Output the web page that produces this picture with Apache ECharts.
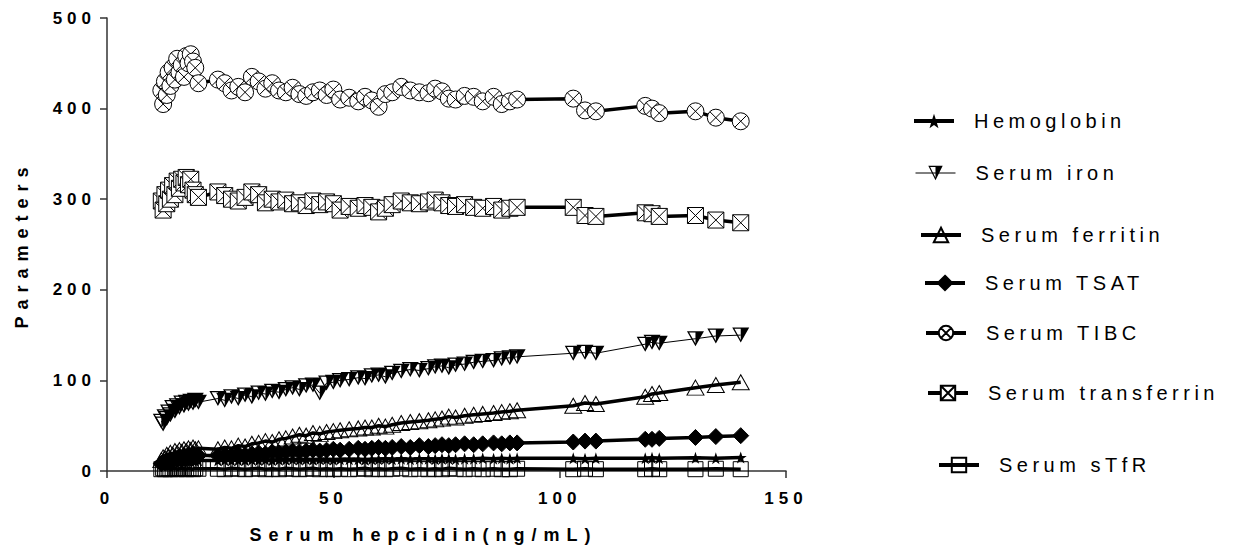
<!DOCTYPE html>
<html>
<head>
<meta charset="utf-8">
<script src="https://cdn.jsdelivr.net/npm/echarts@6/dist/echarts.min.js"></script>
<style>
html,body{margin:0;padding:0;background:#fff;}
#chart{width:1239px;height:554px;}
</style>
</head>
<body>
<div id="chart"></div>
<script>
// Serum hepcidin (ng/mL) values, x positions of the patients
const hepcidin = [12.0,12.4,12.8,13.2,13.6,14.0,14.5,15.0,15.5,16.0,16.5,17.0,17.5,18.0,18.5,19.0,19.5,20.2,
  24.5,26,27.5,29,30.5,32,33.5,35,36.5,38,39.5,41,42.5,44,45.5,47,48.5,50,51.5,
  53.5,55.5,57,58.5,60,61.5,63,65,67,69,71,72.5,74,75.5,77,79,81,83,85.4,87.2,89,90.6,
  103,105.6,108,118.9,120.4,122,130,134.5,140];

const hemoglobin = [8,9,8.5,9.5,9,10,9.5,10,10.5,10,11,10.5,11,10.5,11,11.5,11,11.5,
  11.5,12,11.5,12,12,12.5,12,12.5,12,12.5,12.5,13,12.5,13,12.5,13,13,12.5,13,
  13,13,12.5,13,13,13.5,13,13.5,13,13.5,13.5,13,13.5,13.5,13,13.5,13.5,14,13.5,14,13.5,14,
  14,13.5,14,14,14.5,14,14.5,14,15];

const serumIron = [55,52,60,58,65,62,70,66,72,70,75,72,76,74,77,75,78,76,
  80,78,82,80,84,82,86,85,88,87,90,92,90,94,95,86,97,98,100,
  101,103,102,105,106,104,108,110,112,111,113,115,116,114,117,118,120,121,122,124,125,126,
  130,131,130,140,142,141,146,149,150];

const serumFerritin = [12,15,14,18,16,20,18,22,20,23,21,24,22,25,23,26,24,25,
  24,26,25,28,27,30,31,33,32,35,36,38,40,39,42,41,43,44,45,
  46,47,48,48,50,49,51,53,54,55,56,57,58,60,59,61,62,63,64,65,66,67,
  72,75,74,82,85,86,92,95,98];

const serumTSAT = [8,10,9,12,11,13,12,14,13,15,14,16,15,16,15,17,16,17,
  17,18,17,19,18,19,20,19,21,20,21,22,21,22,23,22,23,24,23,
  24,25,24,25,26,25,26,27,26,28,27,28,29,28,29,30,29,30,31,30,31,31,
  32,33,33,35,35,36,37,38,39];

const serumTIBC = [420,405,430,415,440,425,445,432,455,440,448,435,458,450,460,452,445,428,
  432,428,420,424,418,435,430,422,428,420,418,423,416,414,418,420,415,421,410,
  412,408,413,409,402,416,418,424,420,418,417,422,419,411,410,414,413,408,413,405,408,410,
  411,398,397,403,400,395,397,390,386];

const serumTransferrin = [298,288,305,295,310,300,315,305,320,312,322,318,324,316,322,310,305,302,
  308,304,300,298,302,308,305,296,300,297,299,295,296,293,298,294,297,295,288,
  292,290,293,291,286,290,294,298,296,295,297,299,296,293,292,294,291,290,292,288,290,291,
  291,282,281,285,284,281,282,277,274];

const serumSTfR = [2,3,2,2.5,3,2,2.5,3,2,2.5,3,2.5,2,3,2.5,2,3,2.5,
  2.5,2,3,2.5,2,2.5,3,2,2.5,2,3,2.5,2,2.5,3,2,2.5,2,2.5,
  2,2.5,3,2,2.5,2,2.5,3,2,2.5,2,2.5,2,3,2.5,2,2.5,2,2.5,2,2,2.5,
  2,2.5,2,2,2.5,2,2,2.5,2];

const seriesNames = ['Hemoglobin','Serum iron','Serum ferritin','Serum TSAT','Serum TIBC','Serum transferrin','Serum sTfR'];
const xTicks = {min:0, max:150, interval:50};
const yTicks = {min:0, max:500, interval:100};
const xTitle = 'Serum hepcidin(ng/mL)';
const yTitle = 'Parameters';

const FONT = 'Liberation Sans, Arial, sans-serif';
const STAR = 'path://M10 0 L12.35 6.9 L19.5 6.9 L13.8 11.2 L15.9 18.1 L10 14 L4.1 18.1 L6.2 11.2 L0.5 6.9 L7.65 6.9 Z';
const HALF_DOWN_TRI = 'path://M0 0 L20 0 L10 18 Z M2.6 1.5 L10 14.8 L17.4 1.5 Z M10 1.5 L17.4 1.5 L10 14.8 Z';
const CIRCLE_X = 'path://M0 10 A10 10 0 1 1 20 10 A10 10 0 1 1 0 10 Z M2.93 2.93 L17.07 17.07 M17.07 2.93 L2.93 17.07';
const SQUARE_X = 'path://M0 0 L20 0 L20 20 L0 20 Z M0 0 L20 20 M20 0 L0 20';
const SQUARE = 'path://M0 0 L20 0 L20 20 L0 20 Z';
const TRI_UP = 'path://M10 0 L20 18 L0 18 Z';

function pairs(vals){ return hepcidin.map((x,i)=>[x, vals[i]]); }

function mk(name, vals, symbol, size, fill, lineW, extra){
  return Object.assign({
    name: name, type: 'line', data: pairs(vals),
    symbol: symbol, symbolSize: size, showAllSymbol: true,
    lineStyle: {color:'#000', width: lineW},
    itemStyle: {color: fill, borderColor:'#000', borderWidth: 1},
    emphasis: {disabled: true}, silent: true, clip: false
  }, extra || {});
}

const series = [
  mk('Serum sTfR', serumSTfR, SQUARE, [15,15], 'rgba(255,255,255,0)', 3.5),
  mk('Hemoglobin', hemoglobin, STAR, [12,12], '#000', 3.5, {itemStyle:{color:'#000', borderWidth:0}}),
  mk('Serum TSAT', serumTSAT, 'diamond', [16,16], '#000', 3.5),
  mk('Serum ferritin', serumFerritin, TRI_UP, [17,15], 'rgba(255,255,255,0)', 3.5),
  mk('Serum iron', serumIron, HALF_DOWN_TRI, [17,15], '#000', 1, {itemStyle:{color:'#000', borderWidth:0}}),
  mk('Serum transferrin', serumTransferrin, SQUARE_X, [16,16], '#fff', 3.5),
  mk('Serum TIBC', serumTIBC, CIRCLE_X, [17,17], '#fff', 3.5)
];

const legendPos = {
  'Hemoglobin':        [912, 121, 4],
  'Serum iron':        [915, 173, 1],
  'Serum ferritin':    [919, 235, 4],
  'Serum TSAT':        [923, 283, 4],
  'Serum TIBC':        [924, 333, 4],
  'Serum transferrin': [926, 393, 4],
  'Serum sTfR':        [937, 465, 4]
};

const legends = seriesNames.map(n => ({
  data: [n], orient: 'vertical', left: legendPos[n][0], top: legendPos[n][1] - 12,
  padding: 0, itemWidth: 40, itemHeight: 18, selectedMode: false,
  lineStyle: {width: legendPos[n][2], color: '#000'},
  textStyle: {fontSize: 20, fontFamily: FONT, color: '#000', lineHeight: 24, padding: [0,0,0,15]}
}));

const chart = echarts.init(document.getElementById('chart'), null, {renderer: 'svg'});
chart.setOption({
  animation: false,
  backgroundColor: '#fff',
  grid: {left: 107, right: 453, top: 18, bottom: 83, containLabel: false},
  legend: legends,
  xAxis: {
    type: 'value', min: xTicks.min, max: xTicks.max, interval: xTicks.interval,
    name: xTitle, nameLocation: 'middle', nameGap: 55,
    nameTextStyle: {fontSize: 18, fontWeight: 'bold', fontFamily: FONT, color: '#000', padding: [0, 46, 0, 0]},
    axisLine: {show: true, onZero: false, lineStyle: {color: '#333', width: 1.5}},
    axisTick: {show: true, length: 7, lineStyle: {color: '#333', width: 1.5}},
    axisLabel: {fontSize: 17, fontWeight: 'bold', fontFamily: FONT, color: '#000', margin: 19},
    splitLine: {show: false}
  },
  yAxis: {
    type: 'value', min: yTicks.min, max: yTicks.max, interval: yTicks.interval,
    name: yTitle, nameLocation: 'middle', nameGap: 76, nameRotate: 90,
    nameTextStyle: {fontSize: 18, fontWeight: 'bold', fontFamily: FONT, color: '#000'},
    axisLine: {show: true, onZero: false, lineStyle: {color: '#333', width: 1.5}},
    axisTick: {show: true, length: 7, lineStyle: {color: '#333', width: 1.5}},
    axisLabel: {fontSize: 17, fontWeight: 'bold', fontFamily: FONT, color: '#000', margin: 11},
    splitLine: {show: false}
  },
  series: series
});

function applySpacing(){
  document.querySelectorAll('#chart text').forEach(t => {
    const s = t.textContent;
    let ls = '5px';
    if (seriesNames.indexOf(s) >= 0) ls = '4.5px';
    else if (s === xTitle || s === yTitle) ls = '7px';
    t.setAttribute('letter-spacing', ls);
  });
}
chart.on('finished', applySpacing);
applySpacing();
setTimeout(applySpacing, 50);
</script>
</body>
</html>
